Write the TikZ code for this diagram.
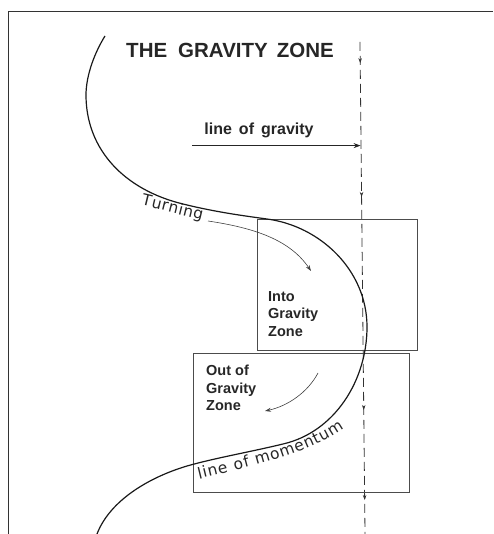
\documentclass[tikz,border=0pt]{standalone}
\usepackage{fontspec}
\setmainfont{Liberation Sans}
\newfontfamily\dvsans{DejaVu Sans}
\usetikzlibrary{arrows.meta,decorations.text,decorations.markings}
\begin{document}
\begin{tikzpicture}[x=1pt,y=-1pt,
  frame/.style={draw=black!80, line width=0.9pt},
  zonebox/.style={draw=black!70, line width=1pt, inner sep=0pt, anchor=north west},
  mainline/.style={draw=black!90, line width=1.2pt},
  thinarrow/.style={draw=black!75, line width=0.6pt, -{Stealth[length=6pt,width=4pt]}},
  gravline/.style={draw=black!80, line width=0.8pt, dash pattern=on 9pt off 5pt,
    postaction={decorate},
    decoration={markings,
      mark=at position 0.043 with {\arrow{Stealth[length=5pt,width=3.5pt]}},
      mark=at position 0.315 with {\arrow{Stealth[length=5pt,width=3.5pt]}},
      mark=at position 0.748 with {\arrow{Stealth[length=5pt,width=3.5pt]}},
      mark=at position 0.931 with {\arrow{Stealth[length=5pt,width=3.5pt]}}}},
  lbl/.style={inner sep=0pt, font=\bfseries\fontsize{14.5}{17.5}\selectfont, align=left, text=black!85, anchor=north west}
]
\useasboundingbox (0,0) rectangle (493,534);
\draw[frame] (8,534) -- (8,11) -- (493,11);

% title
\node[inner sep=0pt, text=black!85, font=\bfseries\fontsize{20.5}{21}\selectfont] (title) at (230,50) {THE\hspace{11pt}GRAVITY\hspace{9pt}ZONE};

% dashed line of gravity
\coordinate (dtop) at (360,42);
\coordinate (dbot) at (365,534);
\draw[gravline] (dtop) -- (dbot);

% line of gravity label and arrow
\node[inner sep=0pt, anchor=base, text=black!85, font=\bfseries\fontsize{16}{18}\selectfont] (lg) at (259,135) {line\hspace{7pt}of\hspace{7pt}gravity};
\coordinate (ga) at (192,145.6);
\coordinate (gb) at (360.6,145.6);
\draw[draw=black!85, line width=0.9pt, -{Stealth[length=7pt,width=5pt]}] (ga) -- (gb);

% boxes
\node[zonebox, minimum width=160pt, minimum height=131pt] (upper) at (257,219) {};
\node[zonebox, minimum width=216pt, minimum height=138.5pt] (lower) at (193,353) {};

% main S curve
\draw[mainline] (105,36) .. controls (95,52) and (86,75) .. (86,95)
  .. controls (86,150) and (125,190) .. (183,204)
  .. controls (215,212) and (245,216) .. (267,219)
  .. controls (320,226) and (367,270) .. (367,327)
  .. controls (367,380) and (335,432) .. (283,444)
  .. controls (250,452) and (215,458) .. (187,466)
  .. controls (150,477) and (110,500) .. (97,534);

% labels in boxes
\node[lbl] (into) at (268,291) {Into\\Gravity\\Zone};
\node[lbl] (out) at (206,365) {Out of\\Gravity\\Zone};

% turning arrow
\coordinate (t1) at (208,221);
\coordinate (t2) at (311,271);
\draw[thinarrow] (t1) .. controls (255,228) and (290,240) .. (t2);

% out arrow
\coordinate (o1) at (318,373);
\coordinate (o2) at (265,411);
\draw[thinarrow] (o1) .. controls (308,392) and (288,406) .. (o2);

% curved texts
\path[decorate, decoration={text along path, text align={fit to path},
  text={|\dvsans\fontsize{15.5}{16}\selectfont\color{black!85}|Turning}}]
  (141,205) .. controls (162,210) and (181,215) .. (202,220);
\path[decorate, decoration={text along path, text align={fit to path},
  text={|\dvsans\fontsize{15.5}{16}\selectfont\color{black!85}|line of momentum}}]
  (199,479) .. controls (252,466) and (305,455) .. (344,428);
\end{tikzpicture}
\end{document}
